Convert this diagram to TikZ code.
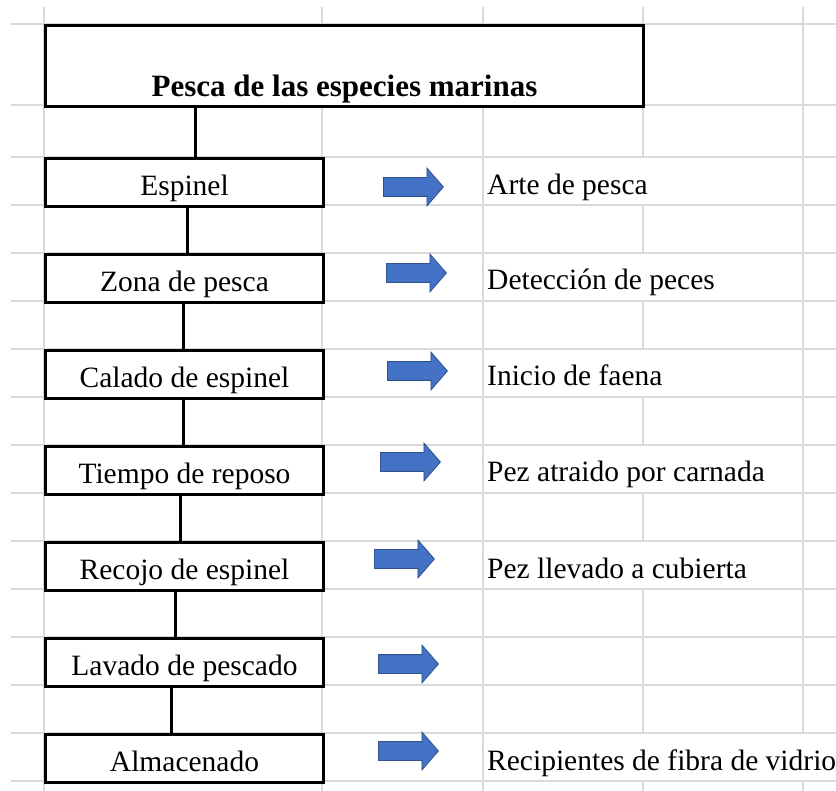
\documentclass[tikz,border=0pt]{standalone}
\usepackage{fontspec}
\setmainfont{Liberation Serif}
\usetikzlibrary{shapes.arrows}
\definecolor{gridgray}{HTML}{D9D9D9}
\definecolor{arrowblue}{HTML}{4472C4}
\definecolor{arrowedge}{HTML}{2F528F}
\begin{document}
\begin{tikzpicture}[x=1pt,y=-1pt,
  gridline/.style={draw=gridgray, line width=1.8pt},
  titlebox/.style={draw=black, line width=3pt, fill=white, anchor=north west,
    minimum width=598pt, minimum height=81pt, inner sep=0pt,
    text height=67pt, text depth=6pt, font=\fontsize{31}{34}\selectfont\bfseries},
  stepbox/.style={draw=black, line width=3pt, fill=white, anchor=north west,
    minimum width=278pt, minimum height=48pt, inner sep=0pt,
    text height=32pt, text depth=6pt, font=\fontsize{29.5}{32}\selectfont},
  note/.style={anchor=base west, inner sep=0pt, font=\fontsize{29.5}{32}\selectfont},
  link/.style={draw=black, line width=3pt},
  blockarrow/.style={single arrow, fill=arrowblue, draw=arrowedge, line width=0.8pt,
    anchor=tail, minimum height=60pt, inner xsep=0pt, inner ysep=9pt,
    text height=0pt, text depth=0pt, text width=0pt,
    single arrow head extend=9.5pt, single arrow tip angle=98}
]
\useasboundingbox (0,0) rectangle (836,791);
\fill[white] (0,0) rectangle (836,791);

% spreadsheet grid
\foreach \yy in {24,105,157,205,253,301,349,397,445,493,541,589,637,685,733,781}
  \draw[gridline] (11,\yy) -- (836,\yy);
\foreach \xx in {44,322,483}
  \draw[gridline] (\xx,7) -- (\xx,791);
\foreach \ya/\yb in {7/157,205/253,301/349,397/445,493/541,589/733,781/791}
  \draw[gridline] (643,\ya) -- (643,\yb);
\foreach \ya/\yb in {7/733,781/791}
  \draw[gridline] (803,\ya) -- (803,\yb);

% boxes
\node[titlebox] (title) at (44,24) {Pesca de las especies marinas};
\node[stepbox] (s1) at (44,157) {Espinel};
\node[stepbox] (s2) at (44,253) {Zona de pesca};
\node[stepbox] (s3) at (44,349) {Calado de espinel};
\node[stepbox] (s4) at (44,445) {Tiempo de reposo};
\node[stepbox] (s5) at (44,541) {Recojo de espinel};
\node[stepbox] (s6) at (44,637) {Lavado de pescado};
\node[stepbox] (s7) at (44,733) {Almacenado};

% connectors
\draw[link] (title.south -| 195,0) -- (s1.north -| 195,0);
\draw[link] (s1.south -| 187,0) -- (s2.north -| 187,0);
\draw[link] (s2.south -| 183,0) -- (s3.north -| 183,0);
\draw[link] (s3.south -| 183,0) -- (s4.north -| 183,0);
\draw[link] (s4.south -| 180,0) -- (s5.north -| 180,0);
\draw[link] (s5.south -| 175,0) -- (s6.north -| 175,0);
\draw[link] (s6.south -| 171,0) -- (s7.north -| 171,0);

% block arrows
\node[blockarrow] (a1) at (383,187) {};
\node[blockarrow] (a2) at (386,273) {};
\node[blockarrow] (a3) at (387,371) {};
\node[blockarrow] (a4) at (380,462) {};
\node[blockarrow] (a5) at (374,559) {};
\node[blockarrow] (a6) at (378,664) {};
\node[blockarrow] (a7) at (378,751) {};

% notes
\node[note] (n1) at (487,195) {Arte de pesca};
\node[note] (n2) at (487,290) {Detección de peces};
\node[note] (n3) at (487,386) {Inicio de faena};
\node[note] (n4) at (487,482) {Pez atraido por carnada};
\node[note] (n5) at (487,578) {Pez llevado a cubierta};
\node[note] (n7) at (487,770) {Recipientes de fibra de vidrio};
\end{tikzpicture}
\end{document}
